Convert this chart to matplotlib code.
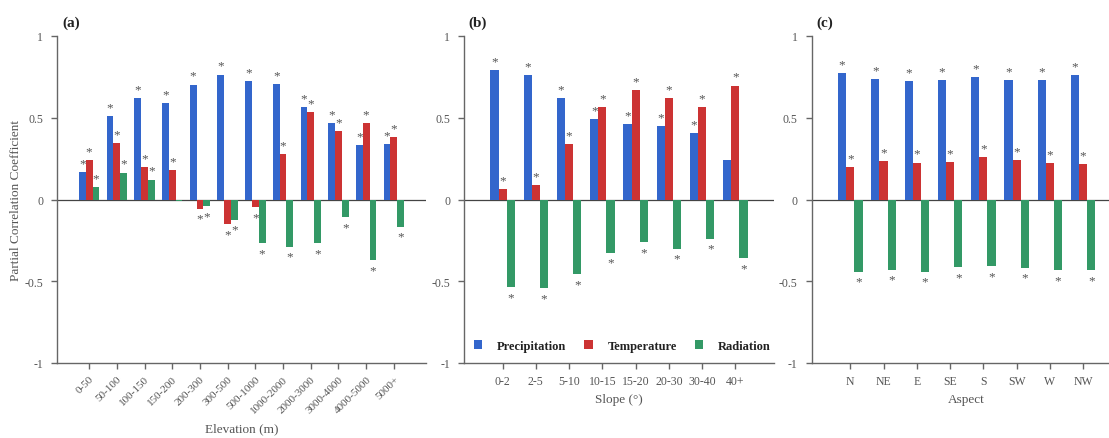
import matplotlib
matplotlib.use("Agg")
import matplotlib.pyplot as plt
from matplotlib.patches import Patch
import numpy as np

plt.rcParams['font.family'] = ['Liberation Serif', 'DejaVu Serif']

series_names = ["Precipitation", "Temperature", "Radiation"]
colors = ["#3366CC", "#CC3333", "#339966"]

elev_cats = ["0-50", "50-100", "100-150", "150-200", "200-300", "300-500", "500-1000",
             "1000-2000", "2000-3000", "3000-4000", "4000-5000", "5000+"]
elev_precip = [0.167, 0.51, 0.622, 0.589, 0.703, 0.764, 0.722, 0.707, 0.563, 0.465, 0.335, 0.338]
elev_temp = [0.24, 0.343, 0.199, 0.179, -0.057, -0.151, -0.047, 0.28, 0.537, 0.42, 0.467, 0.38]
elev_rad = [0.075, 0.165, 0.122, -0.01, -0.041, -0.125, -0.268, -0.29, -0.268, -0.11, -0.37, -0.166]
elev_sig_precip = [1, 1, 1, 1, 1, 1, 1, 1, 1, 1, 1, 1]
elev_sig_temp = [1, 1, 1, 1, 1, 1, 1, 1, 1, 1, 1, 1]
elev_sig_rad = [1, 1, 1, 0, 1, 1, 1, 1, 1, 1, 1, 1]

slope_cats = ["0-2", "2-5", "5-10", "10-15", "15-20", "20-30", "30-40", "40+"]
slope_precip = [0.789, 0.760, 0.618, 0.494, 0.463, 0.449, 0.407, 0.240]
slope_temp = [0.065, 0.091, 0.339, 0.563, 0.667, 0.622, 0.563, 0.697]
slope_rad = [-0.536, -0.544, -0.456, -0.325, -0.26, -0.30, -0.241, -0.358]
slope_sig_precip = [1, 1, 1, 1, 1, 1, 1, 0]
slope_sig_temp = [1, 1, 1, 1, 1, 1, 1, 1]
slope_sig_rad = [1, 1, 1, 1, 1, 1, 1, 1]

aspect_cats = ["N", "NE", "E", "SE", "S", "SW", "W", "NW"]
aspect_precip = [0.772, 0.738, 0.722, 0.73, 0.75, 0.73, 0.732, 0.760]
aspect_temp = [0.197, 0.236, 0.226, 0.23, 0.26, 0.24, 0.222, 0.215]
aspect_rad = [-0.442, -0.431, -0.442, -0.413, -0.407, -0.417, -0.434, -0.434]
aspect_sig_precip = [1] * 8
aspect_sig_temp = [1] * 8
aspect_sig_rad = [1] * 8

yticks = [-1, -0.5, 0, 0.5, 1]
ytick_labels = ["-1", "-0.5", "0", "0.5", "1"]

W, H = 1109, 439
fig = plt.figure(figsize=(W / 100, H / 100), dpi=100)

gray = "#555555"
axc = "#666666"

def px_axes(left, right, top, bottom):
    return [left / W, 1 - bottom / H, (right - left) / W, (bottom - top) / H]

def draw_panel(ax, cats, vals, sigs, xlabel, label, rot, pad_ex):
    n = len(cats)
    x = np.arange(n)
    w = 0.245
    for k, (v, s) in enumerate(zip(vals, sigs)):
        xs = x + (k - 1) * w
        ax.bar(xs, v, width=w, color=colors[k], edgecolor='none', zorder=2)
        for xi, vi, si in zip(xs, v, s):
            if si:
                if vi >= 0:
                    ax.text(xi, vi + 0.017, "*", ha='center', va='bottom', fontsize=9.5,
                            color=gray, zorder=3)
                else:
                    ax.text(xi, vi - 0.097, "*", ha='center', va='bottom', fontsize=9.5,
                            color=gray, zorder=3)
    ax.axhline(0, color="#444444", lw=0.9, zorder=1)
    ax.set_xlim(-1.16, n - 1 + 1.16)
    ax.set_ylim(-1, 1)
    ax.set_yticks(yticks)
    ax.set_yticklabels(ytick_labels)
    ax.set_xticks(x)
    for sp in ['top', 'right']:
        ax.spines[sp].set_visible(False)
    for sp in ['left', 'bottom']:
        ax.spines[sp].set_color(axc)
        ax.spines[sp].set_linewidth(1.0)
    ax.tick_params(axis='both', colors=axc, labelcolor=gray, labelsize=8.5, length=4, width=1.0,
                   direction='out')
    ax.tick_params(axis='y', pad=6)
    if rot:
        ax.set_xticklabels(cats, rotation=45, ha='right', rotation_mode='anchor', fontsize=8)
        ax.tick_params(axis='x', pad=4)
    else:
        ax.set_xticklabels(cats)
        ax.tick_params(axis='x', pad=5)
    ax.set_xlabel(xlabel, fontsize=9.5, color=gray, labelpad=pad_ex)
    ax.text(0.015, 1.022, label, transform=ax.transAxes, fontsize=11, fontweight='bold',
            ha='left', va='bottom', color='#222222')

ax1 = fig.add_axes(px_axes(57, 426, 37, 364))
ax2 = fig.add_axes(px_axes(464, 774, 37, 364))
ax3 = fig.add_axes(px_axes(811.7, 1121.7, 37, 364))

draw_panel(ax1, elev_cats, [elev_precip, elev_temp, elev_rad],
           [elev_sig_precip, elev_sig_temp, elev_sig_rad], "Elevation (m)", "(a)", True, 6)
draw_panel(ax2, slope_cats, [slope_precip, slope_temp, slope_rad],
           [slope_sig_precip, slope_sig_temp, slope_sig_rad], "Slope (\u00b0)", "(b)", False, 4)
draw_panel(ax3, aspect_cats, [aspect_precip, aspect_temp, aspect_rad],
           [aspect_sig_precip, aspect_sig_temp, aspect_sig_rad], "Aspect", "(c)", False, 4)

ax1.set_ylabel("Partial Correlation Coefficient", fontsize=9.5, color=gray, labelpad=1.5)

handles = [Patch(facecolor=c, edgecolor='none') for c in colors]
leg = ax2.legend(handles, series_names, loc='lower center', bbox_to_anchor=(0.511, 0.0),
                 ncol=3, frameon=False, handlelength=0.65, handleheight=0.65,
                 handletextpad=1.2, columnspacing=1.45,
                 prop={'weight': 'bold', 'size': 9})
for t in leg.get_texts():
    t.set_color('#222222')

fig.savefig("out.png", dpi=100)
